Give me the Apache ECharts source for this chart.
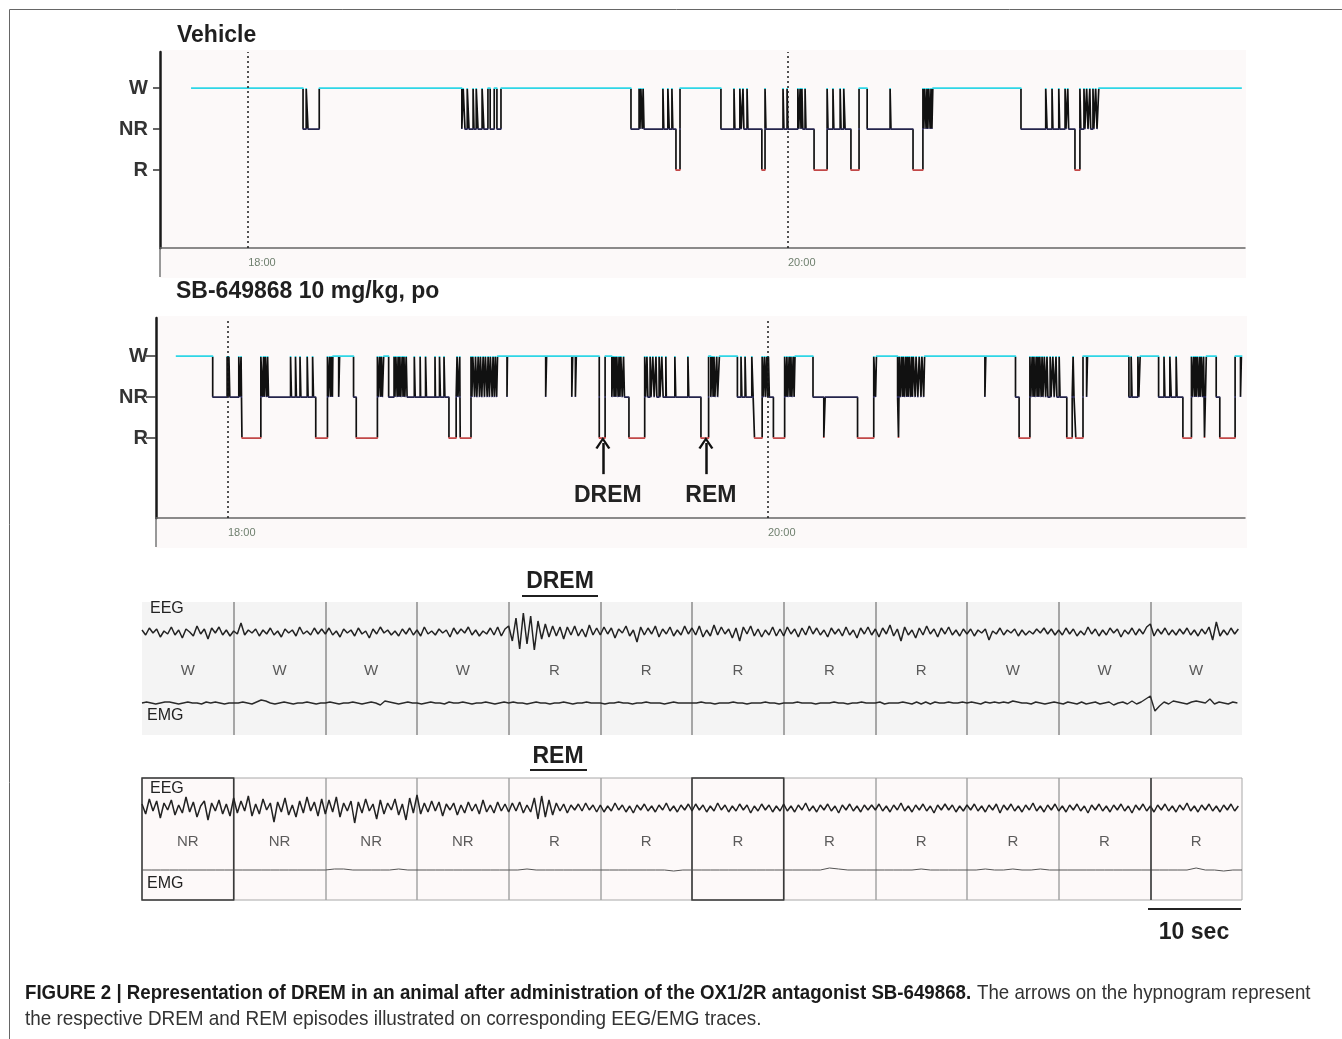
<!DOCTYPE html>
<html>
<head>
<meta charset="utf-8">
<title>DREM hypnogram</title>
<script src="https://cdn.jsdelivr.net/npm/echarts@6/dist/echarts.min.js"></script>
<style>
html, body { margin: 0; padding: 0; background: #fff; }
#main { width: 1342px; height: 1039px; }
</style>
</head>
<body>
<div id="main"></div>
<script>
// sleep stage levels used on the hypnograms
var W = 2, NR = 1, R = 0;
var stageNames = { 2: 'W', 1: 'NR', 0: 'R' };
var stageLevels = [R, NR, W];

// hypnograms: [minutes after 18:00, stage from that time on]
var vehicleHypno = [
  [-12.7,W],[12.2,NR],[12.9,W],[13.3,NR],[15.8,W],
  [47.5,NR],[47.8,W],[48.2,NR],[48.7,W],[49.1,NR],[50.0,W],[50.2,NR],[50.7,W],[51.1,NR],[52.0,W],[52.4,NR],[53.3,W],[53.8,NR],[54.7,W],[55.3,NR],[56.2,W],
  [85.1,NR],[86.9,W],[87.1,NR],[87.3,W],[87.6,NR],[87.8,W],[88.0,NR],[92.2,W],[92.4,NR],[93.3,W],[93.6,NR],[94.2,W],[94.4,NR],[95.1,R],[96.0,W],
  [105.1,NR],[108.0,W],[108.2,NR],[109.3,W],[109.6,NR],[110.0,W],[110.2,NR],[110.9,W],[111.1,NR],[114.2,R],[114.9,W],[115.1,NR],
  [118.9,W],[119.1,NR],[119.8,W],[120.0,NR],[122.2,W],[122.4,NR],[122.7,W],[122.9,NR],[123.1,W],[123.3,NR],[123.8,W],[124.0,NR],[125.8,R],
  [128.7,W],[128.9,NR],[130.0,W],[130.2,NR],[131.6,W],[131.8,NR],[132.4,W],[132.7,NR],[134.0,R],[135.8,W],
  [137.6,NR],[142.7,W],[142.9,NR],[147.8,R],[150.0,W],[150.2,NR],[150.4,W],[150.7,NR],[150.9,W],[151.1,NR],[151.3,W],[151.6,NR],[151.8,W],[152.0,NR],[152.2,W],
  [171.8,NR],[177.3,W],[177.6,NR],[178.7,W],[178.9,NR],[180.2,W],[180.4,NR],[181.6,W],[181.8,NR],[182.2,W],[182.4,NR],[183.8,R],[184.9,W],[185.1,NR],
  [185.8,W],[186.0,NR],[186.4,W],[186.7,NR],[187.1,W],[187.3,NR],[187.8,W],[188.0,NR],[188.4,W],[188.7,NR],[189.1,W],
  [220.9,W]
];

var sbHypno = [
  [-11.6,W],[-3.4,NR],[-0.2,W],[0.0,NR],[0.2,W],[0.4,NR],[2.4,W],[2.6,NR],[2.9,W],[3.1,R],
  [7.3,W],[7.7,NR],[7.9,W],[8.1,NR],[8.3,W],[8.6,NR],[8.8,W],[9.0,NR],
  [13.9,W],[14.1,NR],[15.0,W],[15.2,NR],[16.0,W],[16.2,NR],[17.6,W],[17.8,NR],[18.8,W],[19.0,NR],[19.5,R],
  [22.1,W],[22.3,NR],[22.6,W],[22.8,NR],[23.0,W],[23.2,NR],[23.3,W],[24.6,NR],[24.8,W],[27.9,NR],[28.5,R],
  [33.2,W],[33.4,NR],[33.7,W],[33.9,NR],[34.1,W],[34.3,NR],[34.6,W],[35.7,NR],
  [36.9,W],[37.1,NR],[37.3,W],[37.6,NR],[37.8,W],[38.0,NR],[38.2,W],[38.4,NR],[38.7,W],[38.9,NR],[39.1,W],[39.3,NR],[39.6,W],[39.8,NR],
  [41.4,W],[41.6,NR],[42.7,W],[42.8,NR],[43.9,W],[44.1,NR],[46.0,W],[46.1,NR],[47.0,W],[47.2,NR],[48.0,W],[48.2,NR],[49.1,R],
  [50.7,NR],[50.9,W],[51.1,NR],[51.5,W],[51.6,R],[54.0,W],
  [54.2,NR],[54.4,W],[54.8,NR],[55.0,W],[55.3,NR],[55.6,W],[55.9,NR],[56.1,W],[56.4,NR],[56.7,W],[57.0,NR],[57.2,W],[57.6,NR],[57.8,W],[58.1,NR],[58.3,W],[58.7,NR],[58.9,W],[59.2,NR],[59.4,W],[59.7,NR],[59.9,W],
  [62.0,NR],[62.1,W],[70.6,NR],[70.8,W],[76.4,NR],[76.6,W],[77.2,NR],[77.4,W],
  [82.5,R],[83.8,W],[85.3,NR],[85.6,W],[85.8,NR],[86.0,W],[86.2,NR],[86.4,W],[86.7,NR],[86.9,W],[87.1,NR],[87.3,W],[87.6,NR],[87.9,W],[88.1,NR],[89.1,R],
  [92.6,W],[92.8,NR],[93.1,W],[93.3,NR],[93.8,W],[94.0,NR],[94.4,W],[94.7,NR],[95.1,W],[95.3,NR],[95.8,W],[96.0,NR],[96.4,W],[96.7,NR],[97.3,W],[97.4,NR],[99.3,W],[99.5,NR],[102.2,W],[102.4,NR],
  [105.1,R],[106.8,W],[107.3,NR],[107.6,W],[107.8,NR],[108.0,W],[108.2,NR],[108.6,W],[108.8,NR],[109.2,W],
  [113.2,NR],[114.0,W],[114.2,NR],[114.9,W],[115.1,NR],[116.4,W],[116.7,NR],[117.0,R],[118.7,W],
  [118.9,NR],[119.2,W],[119.4,NR],[119.7,W],[119.9,NR],[120.1,W],[120.3,NR],[121.2,R],[123.7,W],
  [124.0,NR],[124.2,W],[124.4,NR],[124.7,W],[124.9,NR],[125.1,W],[125.3,NR],[125.6,W],[125.8,NR],[126.0,W],
  [130.0,NR],[132.4,R],[132.7,NR],[139.9,R],[143.5,W],[143.9,NR],[144.1,W],
  [148.8,NR],[149.0,R],[149.2,W],[149.4,NR],[149.7,W],[149.9,NR],[150.1,W],[150.3,NR],[150.6,W],[150.8,NR],[151.0,W],[151.2,NR],[151.4,W],[151.7,NR],[151.9,W],[152.1,NR],[152.3,W],[152.7,NR],[152.9,W],[153.3,NR],[153.6,W],[154.0,NR],[154.2,W],[154.6,NR],[154.8,W],
  [168.2,NR],[168.4,W],[175.0,NR],[175.8,R],[178.2,W],
  [178.4,NR],[178.7,W],[178.9,NR],[179.1,W],[179.3,NR],[179.6,W],[179.8,NR],[180.0,W],[180.2,NR],[180.4,W],[180.7,NR],[180.9,W],[181.1,NR],[181.4,W],[181.7,NR],[182.0,W],[182.2,NR],[182.7,W],[182.9,NR],[183.3,W],[183.6,NR],[184.0,W],[184.2,NR],[184.7,W],[184.9,NR],
  [186.4,R],[187.6,NR],[187.8,W],[188.0,NR],[188.4,R],[190.0,W],[190.8,NR],[191.0,W],
  [200.2,NR],[200.7,W],[200.9,NR],[202.2,W],[202.4,NR],[202.7,W],
  [206.8,NR],[208.0,W],[208.2,NR],[209.3,W],[209.6,NR],[210.7,W],[210.9,NR],[212.2,R],[214.1,W],
  [214.3,NR],[214.6,W],[214.8,NR],[215.0,W],[215.2,NR],[215.4,W],[215.7,NR],[215.9,W],[216.1,NR],[216.3,W],[216.6,NR],[216.8,W],[217.0,R],[217.2,NR],[217.4,W],
  [219.6,NR],[220.4,R],[223.8,W],[225.0,NR],[225.2,W],[225.4,W]
];

var clockTicks = [0, 120];
var clockLabels = ['18:00', '20:00'];

// arrows on the SB-649868 hypnogram: [minutes after 18:00, name]
var episodeMarks = [[83.3, 'DREM'], [106.2, 'REM']];

// EEG / EMG traces, 12 epochs of 10 s
var epochLen = 10;
var eegStep = 0.4, dremEmgStep = 0.5, remEmgStep = 1;
var dremStages = ['W','W','W','W','R','R','R','R','R','W','W','W'];
var remStages = ['NR','NR','NR','NR','R','R','R','R','R','R','R','R'];

var dremEEG = [
  2,-3,4,-1,3,-5,1,-2,5,-3,2,-6,3,0,-4,6,-2,3,-7,4,-1,5,-3,2,-4,
  1,-2,9,-3,2,-1,3,-4,2,-2,4,-3,1,-5,3,-1,2,-4,5,-2,1,-3,4,-2,3,
  -2,4,-3,1,-5,3,-1,2,-4,4,-2,1,-6,3,-2,5,-1,2,-3,1,-4,3,-2,4,-3,
  2,-4,5,-2,1,-3,3,-1,2,-5,4,-2,3,-1,5,-3,2,-4,1,-2,4,-3,5,-4,3,
  6,-9,14,-17,19,-12,16,-18,11,-7,8,-5,6,-4,5,-7,5,-3,6,-4,3,-5,7,-3,4,
  -3,5,-2,4,-6,3,-1,6,-4,2,-10,5,-3,4,-2,6,-5,3,-2,5,-4,2,-3,6,-2,
  4,-3,6,-5,2,-4,7,-3,5,-2,3,-6,4,-9,5,-2,6,-4,3,-5,2,-3,5,-4,3,
  -4,5,-2,3,-5,4,-3,6,-2,4,-3,2,-5,4,-2,3,-4,5,-3,2,-6,4,-2,5,-3,
  3,-5,4,-2,7,-4,3,-9,5,-3,2,-6,4,-3,6,-2,3,-5,4,-2,5,-3,2,-4,3,
  -2,3,-4,2,-1,3,-8,1,-2,4,-3,2,-1,3,-4,2,-3,1,-2,3,-1,4,-2,3,-3,
  2,-3,4,-2,3,-4,1,-3,5,-2,3,-4,2,-3,4,-1,3,-5,2,-2,4,-3,3,-2,5,
  8,-4,3,-2,4,-3,2,-3,3,-2,4,-3,2,-4,3,-2,5,-8,10,-4,2,-3,4,-2,3
];

var dremEMG = [
  0,1,0,-1,0,1,1,0,-1,0,1,0,0,-1,1,0,1,0,-1,0,
  0,0,1,0,-1,1,3,2,0,-1,0,1,0,-1,0,0,1,0,-1,0,
  0,1,0,-1,0,0,1,0,-1,0,1,0,-2,2,1,0,-1,0,1,0,
  0,-1,0,1,0,0,-1,1,0,0,1,0,-1,0,0,1,0,-1,0,1,
  0,1,0,0,-1,0,1,0,0,-1,0,0,1,0,-1,0,0,1,0,0,
  0,-1,0,0,1,0,0,-1,0,0,1,0,0,0,-1,0,1,0,0,0,
  0,0,1,0,0,-1,0,0,0,1,0,0,-1,0,0,0,1,0,0,-1,
  0,0,0,1,0,0,0,-1,0,0,0,1,0,0,-1,0,0,1,0,0,
  0,1,-1,0,0,0,1,0,-1,1,-1,1,-1,1,0,0,1,0,0,1,
  0,1,0,-1,1,0,1,0,1,0,2,1,0,0,-1,1,0,-1,0,1,
  0,-1,1,0,-1,1,-1,0,1,-1,0,1,-2,0,1,-1,2,-1,1,4,
  7,-8,-3,1,-1,2,1,0,-1,1,2,1,0,4,-1,1,0,-1,1,0
];

var remEEG = [
  4,-6,9,-3,7,-10,5,-2,8,-7,3,-5,11,-4,6,-9,2,7,-12,5,-3,8,-6,4,-8,
  10,-5,7,-3,12,-8,4,-6,9,-2,5,-14,6,-4,10,-7,3,-9,7,-5,11,-3,6,-8,9,
  -6,8,-4,11,-9,5,-3,7,-15,6,-5,9,-3,4,-11,8,-6,5,-2,9,-7,4,-12,10,-5,
  13,-6,5,-4,7,-3,6,-8,4,-2,5,-7,3,-5,6,-3,4,-6,8,-4,3,-5,6,-3,4,
  -4,5,-3,6,-5,3,-4,10,-11,12,-9,8,-7,5,-3,4,-5,3,-2,4,-3,5,-2,3,-4,
  3,-4,2,-3,5,-2,3,-4,2,-5,3,-2,4,-3,2,-4,3,-2,5,-3,2,-4,3,-2,4,
  -3,4,-2,3,-4,2,-3,5,-2,3,-4,2,-3,4,-2,3,-5,2,-3,4,-2,3,-4,2,-3,
  4,-3,2,-4,3,-2,5,-3,2,-4,3,-2,4,-3,2,-5,3,-2,4,-3,2,-4,3,-2,3,
  -2,4,-3,2,-4,3,-2,5,-3,2,-4,3,-2,4,-3,2,-5,3,-2,4,-2,3,-4,2,-3,
  3,-2,4,-3,2,-4,3,-2,4,-5,3,-2,4,-3,2,-4,3,-2,5,-3,2,-4,3,-2,4,
  -3,2,-4,3,-2,4,-3,2,-5,3,-2,4,-3,2,-4,3,-2,4,-3,2,-5,3,-2,4,-3,
  2,-4,3,-2,4,-3,2,-4,3,-2,5,-3,2,-4,3,-2,4,-3,2,-4,3,-2,4,-3,2
];

var remEMG = [
  0,0,0,0,0,0,0,0,0,0,
  0,0,0,0,0,0,0,0,0,0,
  0,1,1,0,0,0,0,0,1,0,
  0,0,0,0,0,0,0,0,0,0,
  0,0,1,0,0,0,0,0,0,0,
  0,0,0,0,0,0,0,0,-1,0,
  0,0,0,0,0,0,0,0,0,0,
  0,0,0,0,0,2,1,0,0,0,
  0,0,0,0,0,1,0,0,0,0,
  0,0,1,0,0,1,0,0,1,0,
  0,0,0,0,0,0,0,0,0,0,
  0,0,0,0,0,2,0,0,-1,0,
  0
];

// REM panel: epochs outlined in the scoring software, and a marked boundary
var remBoxedEpochs = [0, 6];
var remMarkedBoundary = 110;

var sansFont = '"Liberation Sans", Arial, sans-serif';

function toXY(values, step) {
  return values.map(function (v, i) { return [i * step, v]; });
}

function stageLabelData(stages, y) {
  return stages.map(function (s, i) { return [i * epochLen + epochLen / 2, y, s]; });
}

function hypnoYAxis(gridIndex, min, max, tickLen, margin) {
  return {
    gridIndex: gridIndex, type: 'value', min: min, max: max,
    axisLine: { show: true, onZero: false, lineStyle: { color: '#1a1a1a', width: 2.5 } },
    axisTick: { show: true, customValues: stageLevels, length: tickLen, lineStyle: { color: '#333', width: 1.5 } },
    axisLabel: {
      customValues: stageLevels, margin: margin, fontSize: 20, fontWeight: 'bold', color: '#333', fontFamily: sansFont,
      formatter: function (v) { return stageNames[v]; }
    },
    splitLine: { show: false }
  };
}

function hypnoXAxis(gridIndex, min, max) {
  return {
    gridIndex: gridIndex, type: 'value', min: min, max: max,
    axisLine: { show: true, onZero: false, lineStyle: { color: '#666', width: 1.5 } },
    axisTick: { show: false },
    axisLabel: {
      customValues: clockTicks, align: 'left', margin: 9, fontSize: 11, color: '#6e7f6e', fontFamily: sansFont,
      formatter: function (v) { return clockLabels[clockTicks.indexOf(v)]; }
    },
    splitLine: { show: false }
  };
}

function traceXAxis(gridIndex, color) {
  return {
    gridIndex: gridIndex, type: 'value', min: 0, max: 12 * epochLen, interval: epochLen,
    axisLine: { show: false }, axisTick: { show: false }, axisLabel: { show: false },
    splitLine: { show: true, showMinLine: false, showMaxLine: false, lineStyle: { color: color, width: 1.5 } }
  };
}

function hiddenY(gridIndex, min, max) {
  return { gridIndex: gridIndex, type: 'value', min: min, max: max, show: false, splitLine: { show: false } };
}

function hypnoSeries(data, axisIndex) {
  return {
    type: 'line', step: 'end', xAxisIndex: axisIndex, yAxisIndex: axisIndex,
    data: data, symbol: 'none', lineStyle: { width: 1.7 }, silent: true,
    markLine: {
      silent: true, symbol: 'none', label: { show: false },
      lineStyle: { color: '#1a1a1a', width: 1.5, type: [2, 3] },
      data: clockTicks.map(function (t) { return { xAxis: t }; })
    }
  };
}

function hypnoVisual(seriesIndex) {
  return {
    type: 'piecewise', show: false, seriesIndex: seriesIndex, dimension: 1,
    pieces: [
      { gt: 1.97, color: '#2ed6e6' },
      { gt: 1.03, lte: 1.97, color: '#111' },
      { gt: 0.97, lte: 1.03, color: '#24244c' },
      { gt: 0.03, lte: 0.97, color: '#111' },
      { lte: 0.03, color: '#c24848' }
    ]
  };
}

function stageLabelSeries(stages, axisX, axisY, y) {
  return {
    type: 'scatter', xAxisIndex: axisX, yAxisIndex: axisY, symbol: 'rect', symbolSize: 1,
    itemStyle: { color: 'rgba(0,0,0,0)' }, silent: true,
    data: stageLabelData(stages, y),
    label: {
      show: true, position: 'inside', fontSize: 15, color: '#333', fontFamily: sansFont,
      formatter: function (p) { return p.data[2]; }
    }
  };
}

function textEl(text, x, y, font, fill, align, scaleX) {
  return {
    type: 'text', x: x, y: y, scaleX: scaleX || 1,
    style: { text: text, x: 0, y: 0, font: font, fill: fill, textAlign: align || 'left', textVerticalAlign: 'middle' }
  };
}

var chevron = 'path://M0,10 L7,0 L14,10 L12,11 L7,3.5 L2,11 Z';

var option = {
  animation: false,
  backgroundColor: '#fff',
  grid: [
    { left: 160, top: 52, width: 1085, height: 196 },
    { left: 156, top: 318, width: 1089, height: 200 },
    { left: 142, top: 602, width: 1100, height: 133, show: true, backgroundColor: '#f4f4f4', borderWidth: 0 },
    { left: 142, top: 778, width: 1100, height: 122, show: true, backgroundColor: '#fdf9f9', borderColor: '#a8a8a8', borderWidth: 1 }
  ],
  xAxis: [
    hypnoXAxis(0, -19.6, 221.6),
    hypnoXAxis(1, -16.0, 226.0),
    traceXAxis(2, '#8c8c8c'),
    traceXAxis(3, '#a4a4a4')
  ],
  yAxis: [
    hypnoYAxis(0, -1.9, 2.88, 7, 12),
    hypnoYAxis(1, -1.95, 2.93, 10, 8),
    hiddenY(2, -103, 30),
    hiddenY(2, -32, 101),
    hiddenY(3, -92, 30),
    hiddenY(3, -30, 92)
  ],
  visualMap: [hypnoVisual(0), hypnoVisual(1)],
  series: [
    hypnoSeries(vehicleHypno, 0),
    hypnoSeries(sbHypno, 1),
    {
      type: 'scatter', xAxisIndex: 1, yAxisIndex: 1, symbolSize: 0, silent: true,
      data: episodeMarks.map(function (e) { return [e[0], -0.12]; }),
      markLine: {
        silent: true, symbol: [chevron, 'none'], symbolSize: [15, 12],
        lineStyle: { color: '#111', width: 2.5, type: 'solid' },
        label: {
          show: true, position: 'end', distance: 10, offset: [5, 0], formatter: '{b}',
          fontSize: 23, fontWeight: 'bold', color: '#222', fontFamily: sansFont
        },
        data: episodeMarks.map(function (e) {
          return [{ coord: [e[0], -0.12], name: e[1] }, { coord: [e[0], -0.88], name: e[1] }];
        })
      }
    },
    {
      type: 'line', xAxisIndex: 2, yAxisIndex: 2, data: toXY(dremEEG, eegStep),
      symbol: 'none', silent: true, lineStyle: { color: '#222', width: 1.5 }
    },
    {
      type: 'line', xAxisIndex: 2, yAxisIndex: 3, data: toXY(dremEMG, dremEmgStep),
      symbol: 'none', silent: true, lineStyle: { color: '#2a2a2a', width: 1.4 }
    },
    stageLabelSeries(dremStages, 2, 2, -39),
    {
      type: 'line', xAxisIndex: 3, yAxisIndex: 4, data: toXY(remEEG, eegStep),
      symbol: 'none', silent: true, lineStyle: { color: '#222', width: 1.5 },
      markArea: {
        silent: true,
        itemStyle: { color: 'rgba(0,0,0,0)', borderColor: '#3a3a3a', borderWidth: 1.5 },
        data: remBoxedEpochs.map(function (e) {
          return [{ xAxis: e * epochLen }, { xAxis: (e + 1) * epochLen }];
        })
      },
      markLine: {
        silent: true, symbol: 'none', label: { show: false },
        lineStyle: { color: '#3a3a3a', width: 1.5, type: 'solid' },
        data: [{ xAxis: remMarkedBoundary }]
      }
    },
    {
      type: 'line', xAxisIndex: 3, yAxisIndex: 5, data: toXY(remEMG, remEmgStep),
      symbol: 'none', silent: true, lineStyle: { color: '#555', width: 1 }
    },
    stageLabelSeries(remStages, 3, 4, -34)
  ],
  graphic: [
    { type: 'rect', z: -10, shape: { x: 9.5, y: 9.5, width: 1400, height: 1100 }, style: { fill: 'none', stroke: '#666', lineWidth: 1 } },
    { type: 'rect', z: -5, shape: { x: 160, y: 50, width: 1086, height: 228 }, style: { fill: '#fcf9f9' } },
    { type: 'rect', z: -5, shape: { x: 156, y: 316, width: 1091, height: 232 }, style: { fill: '#fcf9f9' } },
    { type: 'line', shape: { x1: 160, y1: 248, x2: 160, y2: 277 }, style: { stroke: '#777', lineWidth: 1.5 } },
    { type: 'line', shape: { x1: 156, y1: 518, x2: 156, y2: 547 }, style: { stroke: '#777', lineWidth: 1.5 } },
    textEl('Vehicle', 177, 36, 'bold 23px ' + sansFont, '#1f1f1f'),
    textEl('SB-649868 10 mg/kg, po', 176, 292, 'bold 23px ' + sansFont, '#1f1f1f'),
    textEl('DREM', 560, 582, 'bold 23px ' + sansFont, '#1f1f1f', 'center'),
    { type: 'line', shape: { x1: 522, y1: 596, x2: 598, y2: 596 }, style: { stroke: '#1f1f1f', lineWidth: 2 } },
    textEl('REM', 558, 757, 'bold 23px ' + sansFont, '#1f1f1f', 'center'),
    { type: 'line', shape: { x1: 530, y1: 770, x2: 587, y2: 770 }, style: { stroke: '#1f1f1f', lineWidth: 2 } },
    textEl('EEG', 150, 609, '16px ' + sansFont, '#222'),
    textEl('EMG', 147, 716, '16px ' + sansFont, '#222'),
    textEl('EEG', 150, 789, '16px ' + sansFont, '#222'),
    textEl('EMG', 147, 884, '16px ' + sansFont, '#222'),
    { type: 'line', shape: { x1: 1148, y1: 909, x2: 1241, y2: 909 }, style: { stroke: '#222', lineWidth: 2 } },
    textEl('10 sec', 1194, 933, 'bold 23px ' + sansFont, '#1f1f1f', 'center'),
    textEl('FIGURE 2 | Representation of DREM in an animal after administration of the OX1/2R antagonist SB-649868.', 25, 993, 'bold 21px ' + sansFont, '#1a1a1a', 'left', 0.89),
    textEl('The arrows on the hypnogram represent', 977, 993, '21px ' + sansFont, '#333', 'left', 0.89),
    textEl('the respective DREM and REM episodes illustrated on corresponding EEG/EMG traces.', 25, 1019, '21px ' + sansFont, '#333', 'left', 0.9)
  ]
};

var myChart = echarts.init(document.getElementById('main'));
myChart.setOption(option);
</script>
</body>
</html>
